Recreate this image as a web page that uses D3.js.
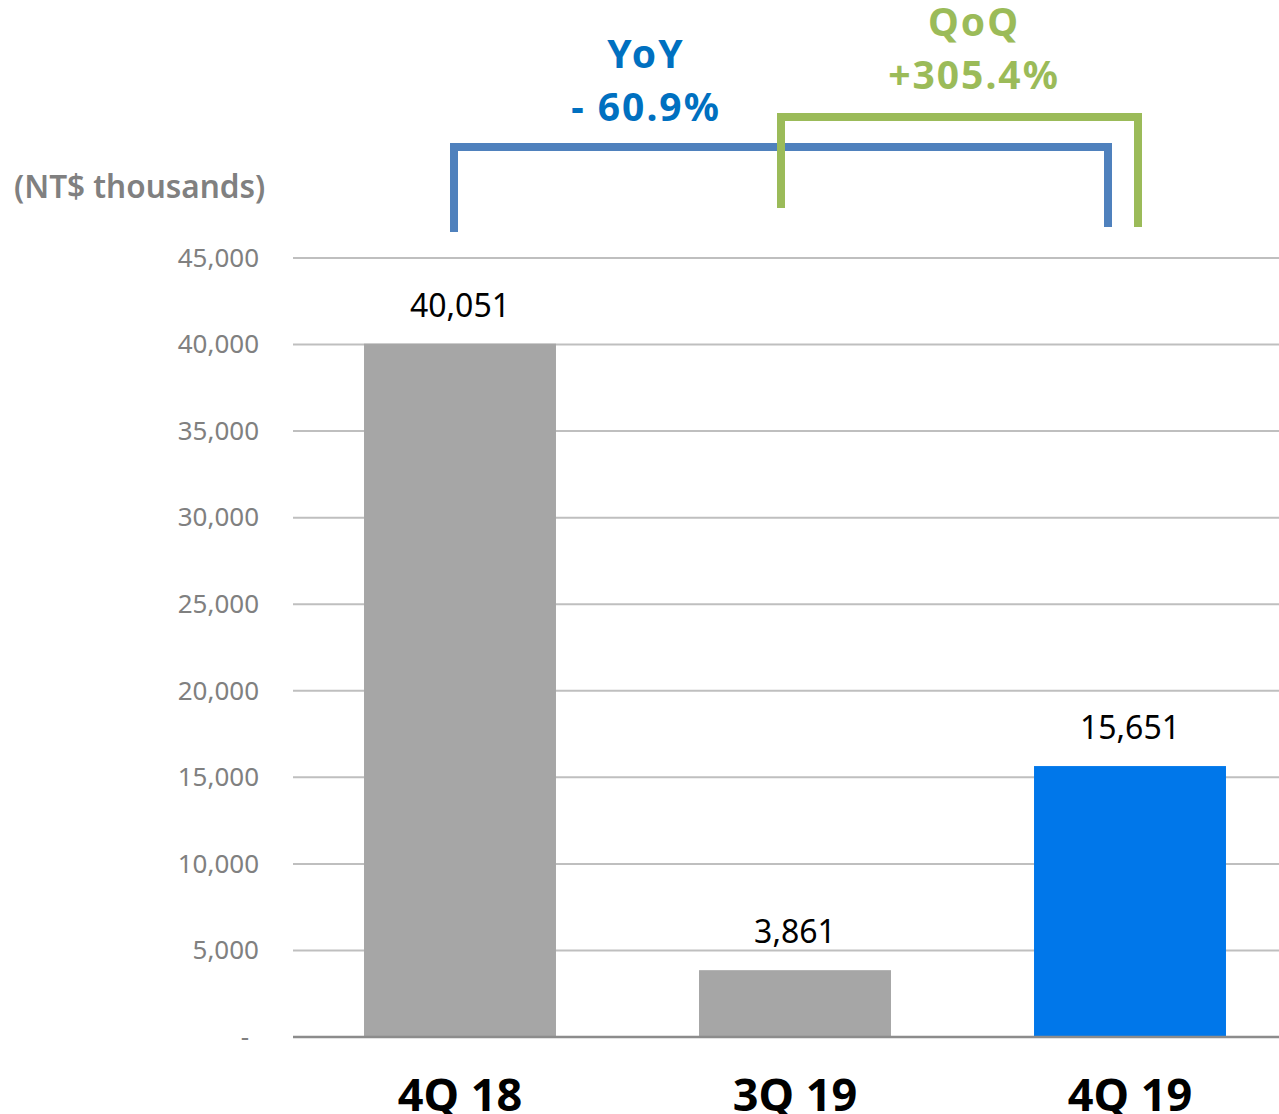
<!DOCTYPE html>
<html>
<head>
<meta charset="utf-8">
<script src="https://cdn.jsdelivr.net/npm/d3@7"></script>
<style>
  body { margin: 0; background: #fff; }
  svg { display: block; }
  svg text { font-family: "Noto Sans", "Open Sans", sans-serif; }
</style>
</head>
<body>
<svg id="chart" width="1279" height="1114"></svg>
<script>
// Data
const categories = ['4Q 18', '3Q 19', '4Q 19'];
const values = [40051, 3861, 15651];
const yTicks = [0, 5000, 10000, 15000, 20000, 25000, 30000, 35000, 40000, 45000];
const yoyLabel = ['YoY', '- 60.9%'];
const qoqLabel = ['QoQ', '+305.4%'];

const svg = d3.select('#chart');

// Scales
const x = d3.scaleBand()
    .domain(categories)
    .range([293, 1297])
    .paddingInner(0.427)
    .paddingOuter(0.212);

const y = d3.scaleLinear()
    .domain([0, 45000])
    .range([1037, 258]);

// Gridlines
svg.append('g')
    .selectAll('line')
    .data(yTicks.filter(d => d > 0))
    .enter()
    .append('line')
    .attr('x1', 293)
    .attr('x2', 1279)
    .attr('y1', d => y(d))
    .attr('y2', d => y(d))
    .attr('stroke', '#bfbfbf')
    .attr('stroke-width', 2);

// Y axis labels
const yAxis = d3.axisLeft(y)
    .tickValues(yTicks)
    .tickSize(0)
    .tickPadding(34)
    .tickFormat(d => d === 0 ? '-' : d3.format(',')(d));

svg.append('g')
    .attr('transform', 'translate(293,0)')
    .call(yAxis)
    .call(g => g.select('.domain').remove())
    .call(g => g.selectAll('text')
        .attr('fill', '#808080')
        .attr('dx', d => d === 0 ? -10 : 0)
        .style('font-size', '26px'));

// Bars
svg.selectAll('.bar')
    .data(values)
    .enter()
    .append('rect')
    .attr('class', 'bar')
    .attr('x', (d, i) => x(categories[i]))
    .attr('y', d => y(d))
    .attr('width', x.bandwidth())
    .attr('height', d => y(0) - y(d))
    .attr('fill', (d, i) => i === 2 ? '#0077ea' : '#a6a6a6');

// Zero line
svg.append('line')
    .attr('x1', 293)
    .attr('x2', 1279)
    .attr('y1', y(0))
    .attr('y2', y(0))
    .attr('stroke', '#8c8c8c')
    .attr('stroke-width', 2.5);

// Value labels
svg.selectAll('.val')
    .data(values)
    .enter()
    .append('text')
    .attr('class', 'val')
    .attr('x', (d, i) => x(categories[i]) + x.bandwidth() / 2)
    .attr('y', d => y(d) - 27)
    .attr('text-anchor', 'middle')
    .style('font-size', '32px')
    .attr('fill', '#000')
    .text(d => d3.format(',')(d));

// Category labels
const xAxis = d3.axisBottom(x).tickSize(0).tickPadding(42);
svg.append('g')
    .attr('transform', `translate(0,${y(0)})`)
    .call(xAxis)
    .call(g => g.select('.domain').remove())
    .call(g => g.selectAll('text')
        .attr('fill', '#000')
        .style('font-size', '45px')
        .style('font-weight', 'bold'));

// Unit label
svg.append('text')
    .attr('x', 14)
    .attr('y', 198)
    .style('font-size', '31.5px')
    .style('font-weight', '600')
    .attr('fill', '#808080')
    .text('(NT$ thousands)');

// Brackets
const c = cat => x(cat) + x.bandwidth() / 2;
const bracket = (x1, x2, top, b1, b2, colour) => {
    svg.append('path')
        .attr('d', `M${x1},${b1}V${top}H${x2}V${b2}`)
        .attr('fill', 'none')
        .attr('stroke', colour)
        .attr('stroke-width', 8);
};
bracket(c('4Q 18') - 6, c('4Q 19') - 22, 147, 232, 227, '#4f81bd');
bracket(c('3Q 19') - 14, c('4Q 19') + 8, 117, 208, 227, '#9bbb59');

// Bracket labels
const label = (lines, cx, y0, colour) => {
    lines.forEach((t, i) => {
        svg.append('text')
            .attr('x', cx)
            .attr('y', y0 + i * 53)
            .attr('text-anchor', 'middle')
            .style('font-size', '39px')
            .style('font-weight', 'bold')
            .style('letter-spacing', '2px')
            .attr('fill', colour)
            .text(t);
    });
};
label(yoyLabel, 646, 68, '#0070c0');
label(qoqLabel, 974, 36, '#9bbb59');
</script>
</body>
</html>
